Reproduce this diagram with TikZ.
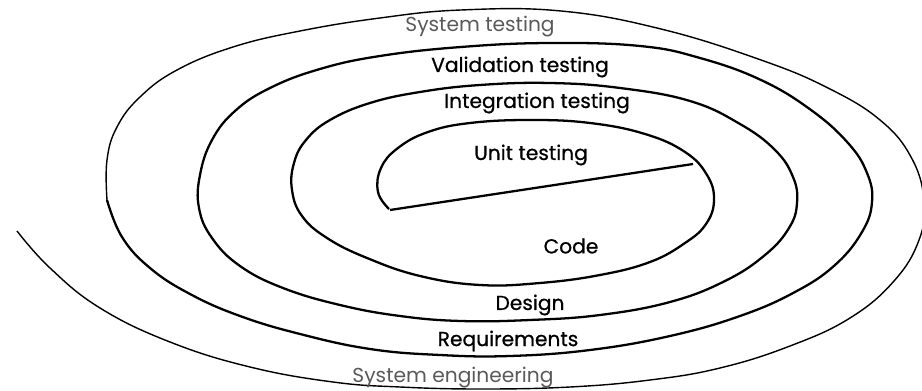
\documentclass[tikz,border=0pt]{standalone}
\usepackage{fontspec}
\setmainfont{Poppins}
\newfontfamily\labelfont{Poppins}[RawFeature={embolden=0.7}]

\begin{document}
\begin{tikzpicture}[x=0.02cm, y=-0.02cm,
    lbl/.style={font=\labelfont\fontsize{11.5}{13}\selectfont, inner sep=0pt},
    faint/.style={font=\fontsize{11.5}{13}\selectfont, inner sep=0pt, text=black!65},
    heavy/.style={line width=1.3pt, line join=round},
    light/.style={line width=0.8pt}]
    \useasboundingbox (0, 0) rectangle (922, 391);

    % the spiral, inner three turns
    \draw[heavy] plot[smooth, tension=0.7] coordinates {
        (389, 209) (378, 192) (381, 168) (398, 148) (428, 132) (470, 123)
        (530, 120) (590, 123) (645, 134) (685, 152) (707, 175) (714, 200)
        (706, 224) (685, 243) (650, 262) (600, 275) (540, 283) (480, 285)
        (420, 276) (367, 258) (327, 238) (302, 216) (292, 190) (294, 163)
        (306, 140) (330, 120) (370, 103) (420, 92) (480, 85) (550, 83)
        (620, 88) (690, 101) (740, 124) (775, 150) (793, 177) (797, 203)
        (789, 228) (765, 255) (725, 281) (670, 302) (600, 315) (530, 320)
        (461, 321) (400, 316) (340, 305) (283, 288) (240, 266) (212, 238)
        (199, 208) (200, 175) (212, 140) (235, 111) (270, 88) (320, 69)
        (380, 56) (461, 47) (550, 43) (640, 46) (700, 58) (761, 80)
        (811, 110) (848, 143) (867, 173) (872, 202) (862, 232) (835, 265)
        (795, 292) (740, 316) (670, 336) (590, 350) (510, 356) (440, 355)
        (370, 349) (300, 334) (240, 316) (190, 294) (150, 268) (122, 237)
        (107, 200)};
    % outer turn
    \draw[light] plot[smooth, tension=0.7] coordinates {
        (107, 200) (107, 160) (117, 127) (140, 97) (177, 70) (233, 47)
        (300, 31) (380, 18) (461, 10) (561, 11) (661, 29) (761, 60)
        (828, 88) (880, 120) (911, 157) (924, 200) (919, 240) (894, 281)
        (850, 318) (790, 346) (720, 368) (650, 380) (570, 387) (480, 389)
        (400, 387) (333, 382) (250, 367) (170, 342) (100, 308) (50, 268)
        (17, 231)};

    \draw[heavy] (390, 210) -- (693, 164);

    \node[faint] (systest) at (480, 27) {System testing};
    \node[lbl] (valid) at (520, 67) {Validation testing};
    \node[lbl] (integ) at (537, 103) {Integration testing};
    \node[lbl] (unit) at (531, 155) {Unit testing};
    \node[lbl] (code) at (571, 246) {Code};
    \node[lbl] (design) at (530, 305) {Design};
    \node[lbl] (req) at (508, 341) {Requirements};
    \node[faint] (syseng) at (453, 378) {System engineering};
\end{tikzpicture}
\end{document}
